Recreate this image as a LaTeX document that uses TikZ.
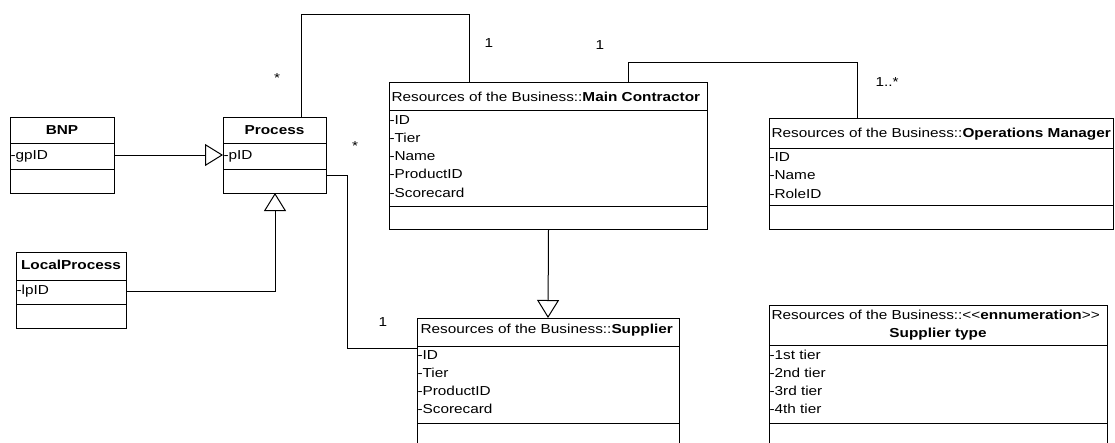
\documentclass[tikz,border=0pt]{standalone}
\usepackage{fontspec}
\setmainfont{Liberation Sans}[FakeStretch=1.18]
\usetikzlibrary{arrows.meta}
\begin{document}
\begin{tikzpicture}[x=1pt,y=-1pt,line width=1pt,
  classbox/.style={draw,rectangle,inner sep=0pt,anchor=north west},
  attr/.style={anchor=base west,inner sep=0pt,font=\fontsize{13}{15}\selectfont},
  title/.style={anchor=base,inner sep=0pt,font=\fontsize{13}{15}\selectfont\bfseries},
  mult/.style={anchor=base,inner sep=0pt,font=\fontsize{13}{15}\selectfont},
  assoc/.style={draw},
  gen/.style={draw,-{Triangle[open,length=18pt,width=22pt,fill=white]}}]
\clip (0,0) rectangle (1115,442);
\fill[white] (0,0) rectangle (1115,442);

% class outlines
\node[classbox,minimum width=104pt,minimum height=76pt] (bnp) at (10,117) {};
\node[classbox,minimum width=103pt,minimum height=76pt] (process) at (223,117) {};
\node[classbox,minimum width=110pt,minimum height=76pt] (localprocess) at (16,252) {};
\node[classbox,minimum width=318pt,minimum height=147pt] (contractor) at (389,82) {};
\node[classbox,minimum width=344pt,minimum height=111pt] (opsmanager) at (769,118) {};
\node[classbox,minimum width=262pt,minimum height=160pt] (supplier) at (417,318) {};
\node[classbox,minimum width=338pt,minimum height=170pt] (suppliertype) at (769,305) {};

% compartment separators
\draw (10,143) -- (114,143) (10,169) -- (114,169);
\draw (223,143) -- (326,143) (223,169) -- (326,169);
\draw (16,280) -- (126,280) (16,304) -- (126,304);
\draw (389,110) -- (707,110) (389,206) -- (707,206);
\draw (769,148) -- (1113,148) (769,205) -- (1113,205);
\draw (417,346) -- (679,346) (417,423) -- (679,423);
\draw (769,345) -- (1107,345) (769,423) -- (1107,423);

% BNP
\node[title] (bnpname) at (62,134.5) {BNP};
\node[attr] (bnpa1) at (10,159) {-gpID};
% Process
\node[title] (procname) at (274.5,134.5) {Process};
\node[attr] (proca1) at (223,159) {-pID};
% LocalProcess
\node[title] (lpname) at (71,269.5) {LocalProcess};
\node[attr] (lpa1) at (16,294.5) {-lpID};
% Main Contractor
\node[attr] (mcname) at (391,101.5) {Resources of the Business::\textbf{Main Contractor}};
\node[attr] (mca1) at (389,124) {-ID};
\node[attr] (mca2) at (389,142.25) {-Tier};
\node[attr] (mca3) at (389,160.5) {-Name};
\node[attr] (mca4) at (389,178.75) {-ProductID};
\node[attr] (mca5) at (389,197) {-Scorecard};
% Operations Manager
\node[attr] (omname) at (771,137.5) {Resources of the Business::\textbf{Operations Manager}};
\node[attr] (oma1) at (769,161) {-ID};
\node[attr] (oma2) at (769,179.5) {-Name};
\node[attr] (oma3) at (769,198) {-RoleID};
% Supplier
\node[attr] (supname) at (420,333.5) {Resources of the Business::\textbf{Supplier}};
\node[attr] (supa1) at (417,359.5) {-ID};
\node[attr] (supa2) at (417,377.5) {-Tier};
\node[attr] (supa3) at (417,395.5) {-ProductID};
\node[attr] (supa4) at (417,413.5) {-Scorecard};
% Supplier type
\node[attr] (stname) at (771,319.5) {Resources of the Business::{<}{<}\textbf{ennumeration}{>}{>}};
\node[title] (stname2) at (938,337.5) {Supplier type};
\node[attr] (sta1) at (769,359.5) {-1st tier};
\node[attr] (sta2) at (769,377.5) {-2nd tier};
\node[attr] (sta3) at (769,395.5) {-3rd tier};
\node[attr] (sta4) at (769,413.5) {-4th tier};

% generalisations
\draw[gen] (bnp.east |- 0,155) -- (process.west |- 0,155);
\draw[gen] (localprocess.east |- 0,291) -- (275,291) -- (275,193 -| process.south);
\draw[gen] (548,229 -| contractor.south) -- (548,318);

% associations
\draw[assoc] (301,117) -- (301,14) -- (469,14) -- (469,82);
\draw[assoc] (628,82) -- (628,62) -- (857,62) -- (857,118);
\draw[assoc] (326,175) -- (347,175) -- (347,348) -- (417,348);

% multiplicities
\node[mult] (m1) at (277,82) {*};
\node[mult] (m2) at (489,47.5) {1};
\node[mult] (m3) at (600,49.5) {1};
\node[mult,anchor=base west] (m4) at (875,86.5) {1..*};
\node[mult] (m5) at (355,150) {*};
\node[mult] (m6) at (383,326.5) {1};
\end{tikzpicture}
\end{document}
